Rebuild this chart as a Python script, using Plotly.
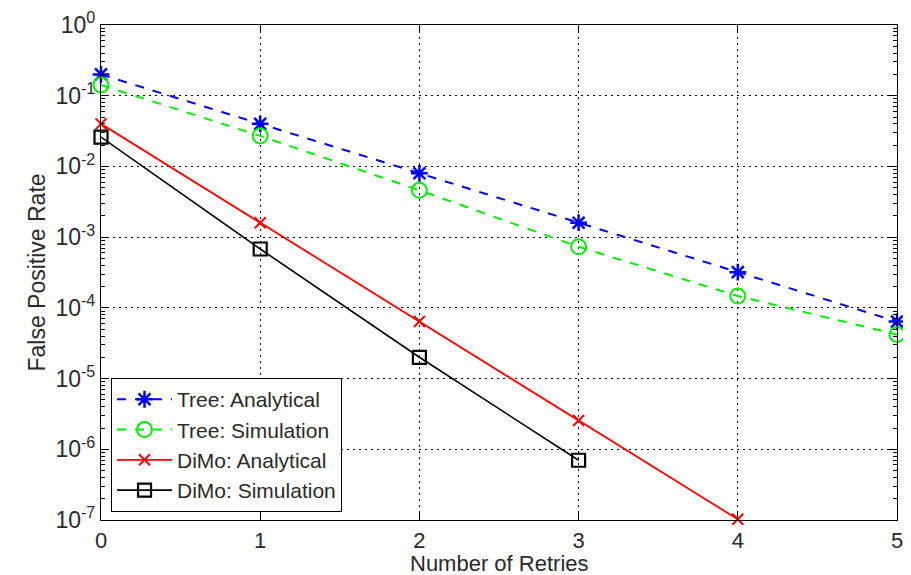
import plotly.graph_objects as go

retries = [0, 1, 2, 3, 4, 5]
tree_analytical = [0.2, 0.04, 0.008, 0.0016, 0.00032, 0.000064]
tree_simulation = [0.142, 0.027, 0.0046, 0.00073, 0.000147, 0.000042]
dimo_analytical = [0.04, 0.0016, 0.000064, 0.00000256, 0.0000001024]
dimo_simulation = [0.026, 0.00068, 0.00002, 0.0000007]

y_tick_vals = [1e0, 1e-1, 1e-2, 1e-3, 1e-4, 1e-5, 1e-6, 1e-7]
y_tick_text = ["10<sup>0</sup>", "10<sup>-1</sup>", "10<sup>-2</sup>", "10<sup>-3</sup>",
               "10<sup>-4</sup>", "10<sup>-5</sup>", "10<sup>-6</sup>", "10<sup>-7</sup>"]

FONT = "Liberation Sans, Arial, sans-serif"
TXT = "#2a2a2a"

fig = go.Figure()
fig.add_trace(go.Scatter(
    x=retries[:len(tree_analytical)], y=tree_analytical, name="Tree: Analytical",
    mode="lines+markers", cliponaxis=False,
    line=dict(color="#0000ff", width=2, dash="dash"),
    marker=dict(symbol="asterisk-open", size=14, color="#0000ff", line=dict(color="#0000ff", width=2.5)),
))
fig.add_trace(go.Scatter(
    x=retries[:len(tree_simulation)], y=tree_simulation, name="Tree: Simulation",
    mode="lines+markers", cliponaxis=False,
    line=dict(color="#00ee00", width=2, dash="dash"),
    marker=dict(symbol="circle-open", size=15, color="#00ee00", line=dict(color="#00ee00", width=2)),
))
fig.add_trace(go.Scatter(
    x=retries[:len(dimo_analytical)], y=dimo_analytical, name="DiMo: Analytical",
    mode="lines+markers", cliponaxis=False,
    line=dict(color="#ff0000", width=1.8),
    marker=dict(symbol="x-thin-open", size=11, color="#ff0000", line=dict(color="#ff0000", width=2)),
))
fig.add_trace(go.Scatter(
    x=retries[:len(dimo_simulation)], y=dimo_simulation, name="DiMo: Simulation",
    mode="lines+markers", cliponaxis=False,
    line=dict(color="#000000", width=1.6),
    marker=dict(symbol="square-open", size=13, color="#000000", line=dict(color="#000000", width=2.2)),
))

axis_font = dict(family=FONT, size=23, color=TXT)
grid_dash = "2px,4px"

# the page places the figure 8px from the window's top-left corner
fig.update_layout(
    width=903, height=567,
    margin=dict(l=93, r=14, t=17, b=55),
    paper_bgcolor="white", plot_bgcolor="white",
    font=dict(family=FONT, color=TXT),
    showlegend=True,
    legend=dict(
        x=0.0126, y=0.016, xanchor="left", yanchor="bottom",
        bgcolor="white", bordercolor="black", borderwidth=1,
        font=dict(family=FONT, size=21, color=TXT),
        itemwidth=55, tracegroupgap=0, entrywidth=190,
    ),
    xaxis=dict(
        range=[0, 5], tickvals=retries, ticktext=[str(r) for r in retries],
        showline=True, linecolor="black", linewidth=1.2, mirror="allticks",
        ticks="inside", ticklen=8, tickcolor="black",
        showgrid=True, gridcolor="black", griddash=grid_dash, gridwidth=1,
        zeroline=False, tickfont=dict(family=FONT, size=22, color=TXT), automargin=False,
    ),
    yaxis=dict(
        type="log", range=[-7, 0],
        tickvals=y_tick_vals, ticktext=y_tick_text,
        showline=True, linecolor="black", linewidth=1.2, mirror="allticks",
        ticks="inside", ticklen=8, tickcolor="black",
        showgrid=True, gridcolor="black", griddash=grid_dash, gridwidth=1,
        zeroline=False, tickfont=axis_font, automargin=False,
        minor=dict(ticks="inside", ticklen=4, tickcolor="black", dtick="D1", showgrid=False),
        title=dict(text="False Positive Rate", font=dict(family=FONT, size=23, color=TXT), standoff=3),
    ),
    annotations=[dict(
        text="Number of Retries", xref="paper", yref="paper",
        x=0.5, y=-0.087, xanchor="center", yanchor="middle", showarrow=False,
        font=dict(family=FONT, size=22, color=TXT),
    )],
)

fig.write_html("out.html")
